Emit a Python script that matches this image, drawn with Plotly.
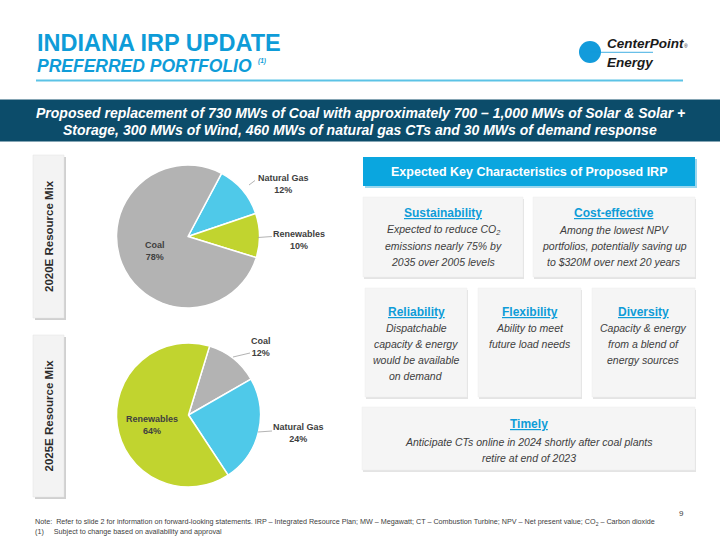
import plotly.graph_objects as go

# ---------------- data ----------------
mix2020_labels = ["Natural Gas", "Renewables", "Coal"]
mix2020_values = [12, 10, 78]
mix2025_labels = ["Coal", "Natural Gas", "Renewables"]
mix2025_values = [12, 24, 64]
fuel_colors = {"Coal": "#B3B3B3", "Natural Gas": "#4FC9E9", "Renewables": "#C1D42F"}

title_main = "INDIANA IRP UPDATE"
title_sub = "PREFERRED PORTFOLIO"
banner_lines = [
    "Proposed replacement of 730 MWs of Coal with approximately 700 \u2013 1,000 MWs of Solar & Solar +",
    "Storage, 300 MWs of Wind, 460 MWs of natural gas CTs and 30 MWs of demand response",
]
side_labels = ["2020E Resource Mix", "2025E Resource Mix"]
header_text = "Expected Key Characteristics of Proposed IRP"
card_titles = ["Sustainability", "Cost-effective", "Reliability", "Flexibility", "Diversity", "Timely"]
card_texts = [
    ["Expected to reduce CO<sub>2</sub>", "emissions nearly 75% by", "2035 over 2005 levels"],
    ["Among the lowest NPV", "portfolios, potentially saving up", "to $320M over next 20 years"],
    ["Dispatchable", "capacity & energy", "would be available", "on demand"],
    ["Ability to meet", "future load needs"],
    ["Capacity & energy", "from a blend of", "energy sources"],
    ["Anticipate CTs online in 2024 shortly after coal plants", "retire at end of 2023"],
]
footer_lines = [
    "Note:  Refer to slide 2 for information on forward-looking statements. IRP \u2013 Integrated Resource Plan; MW \u2013 Megawatt; CT \u2013 Combustion Turbine; NPV \u2013 Net present value; CO<sub>2</sub> \u2013 Carbon dioxide",
    "(1)     Subject to change based on availability and approval",
]
page_number = "9"

# ---------------- layout helpers ----------------
W, H = 720, 540
BLUE = "#0E9CD8"
DARK = "#404040"
FONT = "Arial, Liberation Sans, sans-serif"

shapes = []
ann = []


def rect(x0, y0, x1, y1, fill, line=None, lw=0):
    shapes.append(dict(type="rect", xref="x", yref="y", x0=x0, y0=y0, x1=x1, y1=y1,
                       fillcolor=fill, line=dict(color=line or fill, width=lw), layer="below"))


def line(x0, y0, x1, y1, color, width=1):
    shapes.append(dict(type="line", xref="x", yref="y", x0=x0, y0=y0, x1=x1, y1=y1,
                       line=dict(color=color, width=width)))


def text(x, y, t, size, color=DARK, family=FONT, xanchor="center", yanchor="middle", angle=0):
    ann.append(dict(x=x, y=y, xref="x", yref="y", text=t, showarrow=False, xanchor=xanchor,
                    yanchor=yanchor, textangle=angle,
                    font=dict(size=size, color=color, family=family)))


# title
text(35, 43, "<b>" + title_main + "</b>", 23.5, BLUE, xanchor="left")
text(35, 66, "<b><i>" + title_sub + "</i></b>", 17.5, BLUE, xanchor="left")
text(256, 61, "<b><i>(1)</i></b>", 6.5, BLUE, xanchor="left")
line(36, 80.5, 683, 80.5, "#5CC3E6", 1.8)

# logo
shapes.append(dict(type="circle", xref="x", yref="y", x0=579, y0=41, x1=601, y1=63,
                   fillcolor="#129BDB", line=dict(color="#129BDB", width=0)))
line(590, 52.3, 653, 52.3, "#129BDB", 0.8)
text(605, 43.5, "<b><i>CenterPoint</i></b>", 13.5, "#1A1A1A", xanchor="left")
text(682, 46, "\u00ae", 5, "#1A1A1A", FONT, xanchor="left")
text(605, 62.5, "<b><i>Energy</i></b>", 13.5, "#1A1A1A", xanchor="left")

# banner
rect(0, 99.5, 720, 141.5, "#0C4C6A")
text(360, 113, "<b><i>" + banner_lines[0] + "</i></b>", 14, "white")
text(360, 130, "<b><i>" + banner_lines[1] + "</i></b>", 14, "white")

# side labels
for (y0, y1), lab in zip([(155, 318), (335, 497)], side_labels):
    rect(35, y0 + 2, 66, y1 + 2, "#D0D0D0")
    rect(33, y0, 64, y1, "#F3F3F3", "#E2E2E2", 0.5)
    text(48.5, (y0 + y1) / 2, "<b>" + lab + "</b>", 11.5, "#2B2B2B", angle=-90)

# header box
rect(365, 159, 697, 188, "#9BD7EE")
rect(363, 157, 695, 186, "#0AA6DF")
text(529, 171.5, "<b>" + header_text + "</b>", 12.5, "white")

# cards
card_boxes = [
    (363, 197, 523, 277, 213, 230),
    (533, 197, 695, 277, 213, 230),
    (365, 288, 467, 397, 312, 328),
    (478, 288, 581, 397, 312, 328),
    (592, 288, 695, 397, 312, 328),
    (362, 407, 695, 470, 424, 442),
]
for (x0, y0, x1, y1, ty, ly), t, lines in zip(card_boxes, card_titles, card_texts):
    rect(x0 + 1, y0 + 2, x1 + 1, y1 + 2, "#E4E4E4")
    rect(x0, y0, x1, y1, "#F5F5F5", "#EDEDED", 0.5)
    cx = (x0 + x1) / 2
    text(cx, ty, "<b><span style='text-decoration:underline'>" + t + "</span></b>", 12, BLUE)
    for i, l in enumerate(lines):
        text(cx, ly + 16 * i, "<i>" + l + "</i>", 10.5, DARK)

# footer
text(33, 522, footer_lines[0], 7.2, DARK, xanchor="left")
text(33, 531.5, footer_lines[1], 7.2, DARK, xanchor="left")
text(686, 513, page_number, 8, DARK, xanchor="right")

# ---------------- pies ----------------
fig = go.Figure()


def dom(x0, x1, y0, y1):
    return dict(x=[x0 / W, x1 / W], y=[1 - y1 / H, 1 - y0 / H])


fig.add_trace(go.Pie(labels=mix2020_labels, values=mix2020_values, sort=False, direction="clockwise",
                     rotation=28, textinfo="none", hoverinfo="skip", showlegend=False,
                     marker=dict(colors=[fuel_colors[l] for l in mix2020_labels], line=dict(color="white", width=1.5)),
                     domain=dom(116.5, 259.5, 165, 308)))
fig.add_trace(go.Pie(labels=mix2025_labels, values=mix2025_values, sort=False, direction="clockwise",
                     rotation=17, textinfo="none", hoverinfo="skip", showlegend=False,
                     marker=dict(colors=[fuel_colors[l] for l in mix2025_labels], line=dict(color="white", width=1.5)),
                     domain=dom(116.5, 260.5, 343, 487)))

# pie labels (positions are layout, text from data)
label_pos_2020 = {"Coal": (155, 250.5), "Natural Gas": (283, 184), "Renewables": (299, 240)}
label_pos_2025 = {"Renewables": (152, 424.5), "Coal": (261, 347), "Natural Gas": (298, 433)}
for labs, vals, pos in [(mix2020_labels, mix2020_values, label_pos_2020),
                        (mix2025_labels, mix2025_values, label_pos_2025)]:
    for l, v in zip(labs, vals):
        x, y = pos[l]
        text(x, y, "<b>%s<br>%d%%</b>" % (l, v), 9, DARK)

LEAD = "#A0A0A0"
line(249, 185, 255, 180.5, LEAD, 0.8)
line(258, 237.5, 272, 236.5, LEAD, 0.8)
line(233, 357, 250, 353, LEAD, 0.8)
line(258, 432, 272, 431, LEAD, 0.8)

fig.update_layout(
    width=W, height=H, margin=dict(l=0, r=0, t=0, b=0),
    paper_bgcolor="white", plot_bgcolor="rgba(0,0,0,0)",
    xaxis=dict(range=[0, W], visible=False, fixedrange=True),
    yaxis=dict(range=[H, 0], visible=False, fixedrange=True),
    shapes=shapes, annotations=ann,
)
fig.write_html("out.html", config={"displayModeBar": False},
               post_script="document.body.style.margin='0';document.body.style.padding='0';")
